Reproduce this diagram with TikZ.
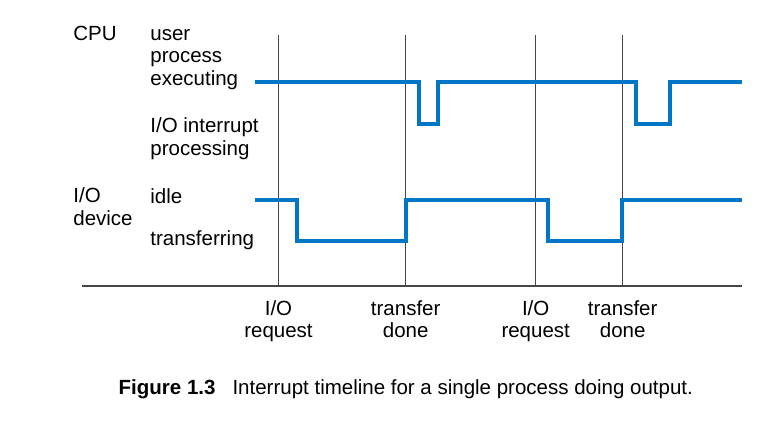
\documentclass[tikz,border=0pt]{standalone}
\usepackage{fontspec}
\setmainfont{Liberation Sans}
\usetikzlibrary{positioning}
\definecolor{sigblue}{RGB}{0,118,198}
\definecolor{rulegray}{RGB}{70,70,70}

\begin{document}
\begin{tikzpicture}[x=0.5pt, y=-0.5pt,
	lbl/.style={anchor=base west, align=left, inner sep=0pt, font=\fontsize{10.25}{11.25}\selectfont},
	evt/.style={anchor=base, align=center, inner sep=0pt, font=\fontsize{10.25}{11}\selectfont},
	timeline/.style={rulegray, line width=0.65pt},
	axisline/.style={rulegray, line width=1.2pt},
	signal/.style={sigblue, line width=2pt, line join=miter}]
	\useasboundingbox (0,0) rectangle (783,435);
	% time marks
	\foreach \x/\n in {278.5/req1, 405.7/done1, 535.7/req2, 622.7/done2} {
		\coordinate (\n) at (\x,286);
		\draw [timeline] (\x,35) -- (\n);
	}
	\draw [axisline] (82,286) -- (741.7,286);
	% signals
	\draw [signal] (255,81.7) -- (419,81.7) -- (419,124) -- (438.3,124) -- (438.3,81.7)
		-- (635.7,81.7) -- (635.7,124) -- (670,124) -- (670,81.7) -- (741.7,81.7);
	\draw [signal] (255,200.3) -- (296.7,200.3) -- (296.7,241) -- (405.7,241) -- (405.7,200.3)
		-- (548.3,200.3) -- (548.3,241) -- (622.3,241) -- (622.3,200.3) -- (741.7,200.3);
	% labels (base = last line)
	\node [lbl] (cpu) at (73,40) {CPU};
	\node [lbl] (user) at (150,85) {user\\process\\executing};
	\node [lbl] (intr) at (150,155) {I/O interrupt\\processing};
	\node [lbl] (dev) at (73,225) {I/O\\device};
	\node [lbl] (idle) at (150,203) {idle};
	\node [lbl] (xfer) at (150,245) {transferring};
	\node [evt] (req1txt) at (278.5,337) {I/O\\request};
	\node [evt] (done1txt) at (405.7,337) {transfer\\done};
	\node [evt] (req2txt) at (535.7,337) {I/O\\request};
	\node [evt] (done2txt) at (622.7,337) {transfer\\done};
	\node [lbl] (caption) at (118.3,394) {\textbf{Figure 1.3}\hspace{8.5pt}Interrupt timeline for a single process doing output.};
\end{tikzpicture}
\end{document}
